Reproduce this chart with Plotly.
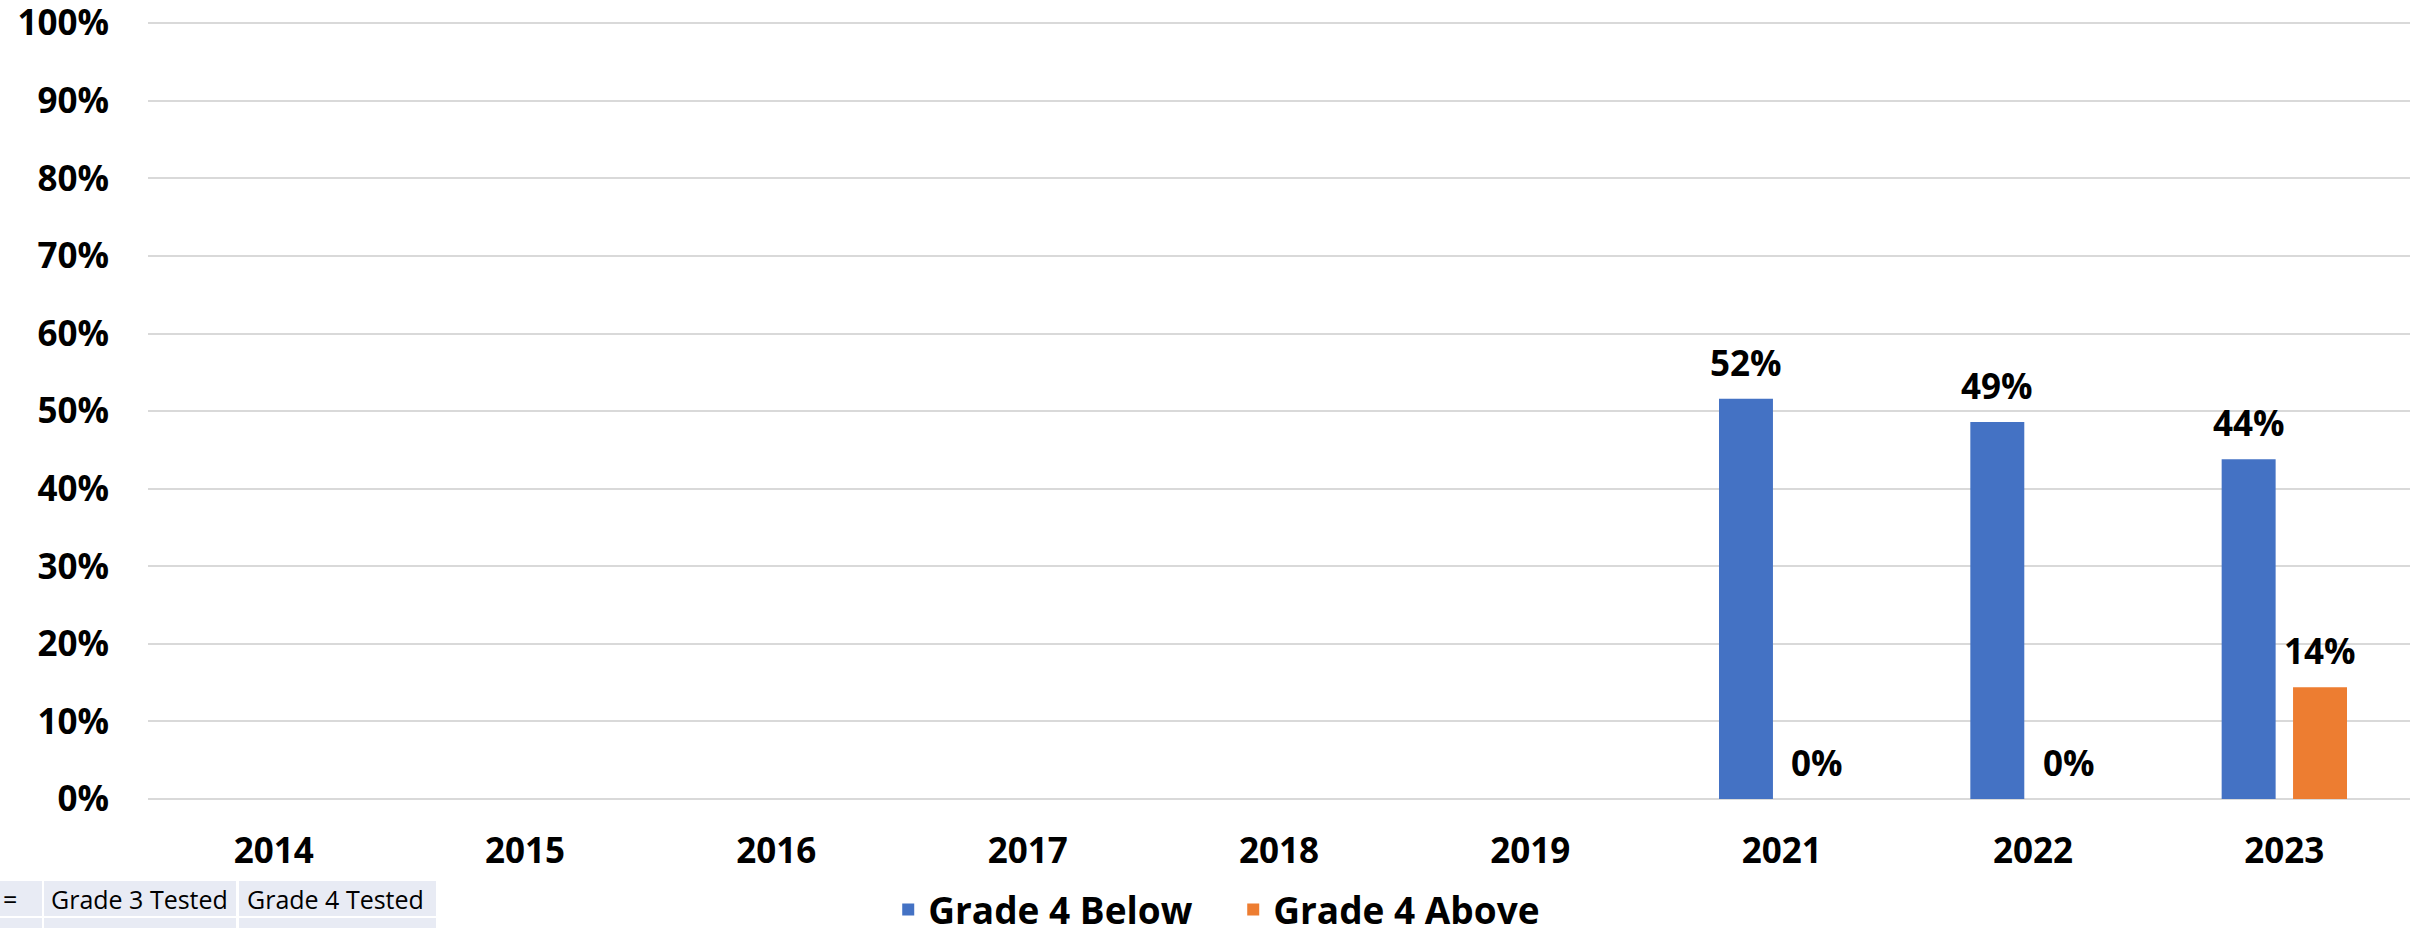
import plotly.graph_objects as go

# ---- data ----
years = ["2014", "2015", "2016", "2017", "2018", "2019", "2021", "2022", "2023"]
grade4_below = [None, None, None, None, None, None, 0.516, 0.486, 0.438]
grade4_above = [None, None, None, None, None, None, 0.0, 0.0, 0.144]
series_names = ["Grade 4 Below", "Grade 4 Above"]
table_labels = ["=", "Grade 3 Tested", "Grade 4 Tested"]

# ---- layout constants ----
W, H = 2430, 928
ML, MR, MT, MB = 148, 20, 22, 129
PW, PH = W - ML - MR, H - MT - MB
BARGAP, BARGROUPGAP = 0.432, 0.244
FONT = "Open Sans"
BLUE, ORANGE = "#4472C4", "#ED7D31"

def px2x(px):
    return (px - ML) / PW

def px2y(py):
    return (H - MB - py) / PH

fig = go.Figure()
for name, vals, col in [(series_names[0], grade4_below, BLUE),
                        (series_names[1], grade4_above, ORANGE)]:
    fig.add_trace(go.Bar(x=years, y=vals, name=name, marker_color=col,
                         marker_line_width=0, hoverinfo="skip"))

# value labels (positioned from data through the axes)
cat_px = PW / len(years)
slot = cat_px * (1 - BARGAP) / 2
annotations = []
for si, vals in enumerate([grade4_below, grade4_above]):
    shift = (si - 0.5) * slot
    for i, v in enumerate(vals):
        if v is None:
            continue
        annotations.append(dict(
            x=i, y=v, xref="x", yref="y", xshift=shift, yshift=11,
            text=f"{round(v*100)}%", showarrow=False, yanchor="bottom",
            xanchor="center",
            font=dict(family=FONT, size=35, color="black", weight="bold")))

# table fragment at bottom-left
shapes = []
cells_x = [(-5, 42), (44, 236), (239, 436)]
rows_y = [(881, 916), (918, 940)]
for (y0, y1) in rows_y:
    for (x0, x1) in cells_x:
        shapes.append(dict(type="rect", xref="paper", yref="paper",
                           x0=px2x(x0), x1=px2x(x1), y0=px2y(y1), y1=px2y(y0),
                           fillcolor="#E8EBF4", line_width=0, layer="below"))
text_x = [1, 49, 245]
for lab, tx in zip(table_labels, text_x):
    annotations.append(dict(x=px2x(tx), y=px2y(899), xref="paper", yref="paper",
                            text=lab, showarrow=False, xanchor="left",
                            yanchor="middle",
                            font=dict(family=FONT, size=25, color="black")))

fig.update_layout(
    width=W, height=H,
    margin=dict(l=ML, r=MR, t=MT, b=MB, pad=0, autoexpand=False),
    paper_bgcolor="white", plot_bgcolor="white",
    barmode="group", bargap=BARGAP, bargroupgap=BARGROUPGAP,
    showlegend=True,
    legend=dict(orientation="h", xref="container", yref="container",
                x=0.5075, xanchor="center", y=(H - 910) / H, yanchor="middle",
                entrywidth=300,
                font=dict(family=FONT, size=37, color="black", weight="bold"),
                bgcolor="rgba(0,0,0,0)"),
    annotations=annotations,
    shapes=shapes,
    xaxis=dict(type="category", range=[-0.5, len(years) - 0.5],
               showgrid=False, zeroline=False, showline=False,
               ticks="", ticklabelstandoff=28, automargin=False,
               ticklabeloverflow="allow",
               tickfont=dict(family=FONT, size=35, color="black", weight="bold")),
    yaxis=dict(range=[0, 1.0015], tickvals=[i / 10 for i in range(11)],
               tickformat=".0%", showgrid=True,
               gridcolor="#D9D9D9", gridwidth=2, zeroline=True,
               zerolinecolor="#D9D9D9", zerolinewidth=2, showline=False,
               ticks="", ticklabelstandoff=38, automargin=False,
               ticklabeloverflow="allow",
               tickfont=dict(family=FONT, size=35, color="black", weight="bold")),
)

fig.write_html("out.html", config={"displayModeBar": False},
               post_script="document.body.style.margin='0';"
                           "document.body.style.overflow='hidden';")
